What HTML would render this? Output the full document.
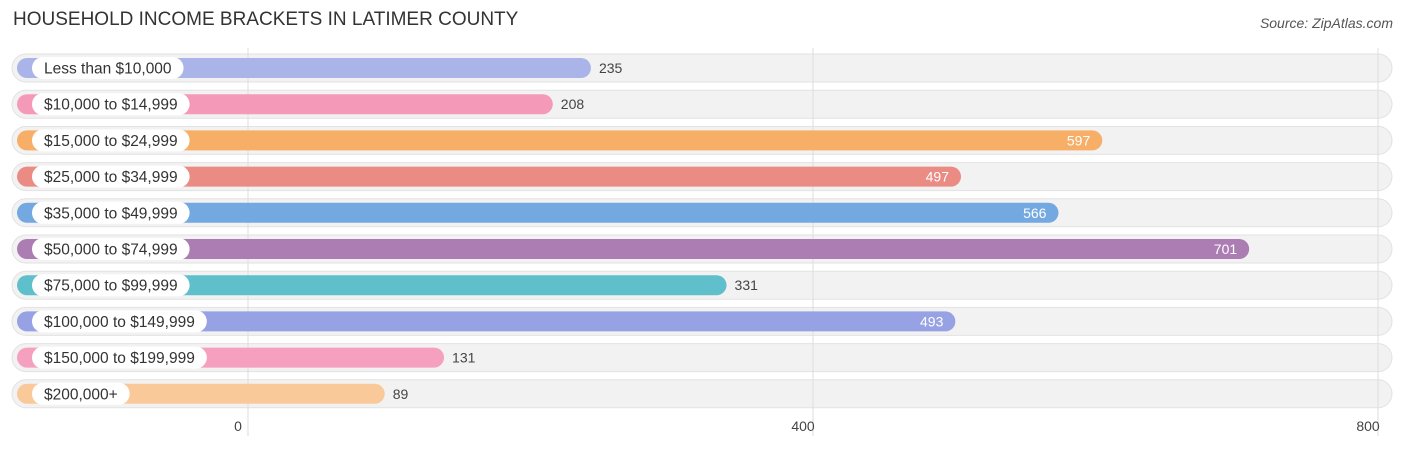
<!DOCTYPE html>
<html><head><meta charset="utf-8"><style>
body{margin:0;width:1406px;height:449px;background:#fff;font-family:"Liberation Sans",sans-serif;position:relative;overflow:hidden}
.t{position:absolute;left:13px;top:9px;font-size:19px;color:#333}
.s{position:absolute;right:13px;top:15px;font-size:14px;color:#555;font-style:italic}
</style></head><body>
<div class="t">HOUSEHOLD INCOME BRACKETS IN LATIMER COUNTY</div>
<div class="s">Source: ZipAtlas.com</div>
<svg id="c" width="1406" height="449" style="position:absolute;left:0;top:0"></svg>
<script>
const categories=["Less than $10,000","$10,000 to $14,999","$15,000 to $24,999","$25,000 to $34,999","$35,000 to $49,999","$50,000 to $74,999","$75,000 to $99,999","$100,000 to $149,999","$150,000 to $199,999","$200,000+"];
const values=[235,208,597,497,566,701,331,493,131,89];
const colors=["#aab4e8","#f49ab8","#f7ae66","#ea8c84","#73a8e0","#ab7db2","#5fbfca","#96a2e3","#f6a0bf","#f9c99a"];
const ticks=[0,400,800];
const svg=document.getElementById('c');const NS="http://www.w3.org/2000/svg";
function x(v){return 259+v*1.4125;}
function gx(v){return 248+v*1.4125;}
function y(i){return 68+i*36.2;}
function mk(t,a,p){const e=document.createElementNS(NS,t);for(const k in a)e.setAttribute(k,a[k]);(p||svg).appendChild(e);return e;}
categories.forEach((c,i)=>{
 const r=mk('rect',{x:12,y:y(i)-14,width:1380,height:28,rx:14,fill:'#f2f2f2',stroke:'#e2e2e2'});
 
 
});
ticks.forEach(t=>{
 const l=mk('line',{x1:gx(t),x2:gx(t),y1:48,y2:436,stroke:'#ddd'});
 
 
 const tx=mk('text',{x:gx(t)-10,y:431,'text-anchor':'middle','font-size':14,fill:'#444'});
 tx.textContent=t;
 
 
});
categories.forEach((c,i)=>{
 const cy=y(i),v=values[i];
 const b=mk('rect',{x:17,y:cy-10,width:x(v)-17,height:20,rx:10,fill:colors[i]});
 
 
 const lt=mk('text',{x:44,y:cy+5.5,'font-size':15.5,fill:'#333'});
 lt.textContent=c;
 
 
 const w=lt.getComputedTextLength();
 const p=mk('rect',{x:32,y:cy-11,width:w+24,height:22,rx:11,fill:'#fff'});
 svg.insertBefore(p,lt);
 
 
 const inside=v>400;
 const vt=mk('text',{x:inside?x(v)-12:x(v)+8,y:cy+5,'font-size':14,fill:inside?'#fff':'#444','text-anchor':inside?'end':'start'});
 vt.textContent=v;
 
 
});
</script>
</body></html>
